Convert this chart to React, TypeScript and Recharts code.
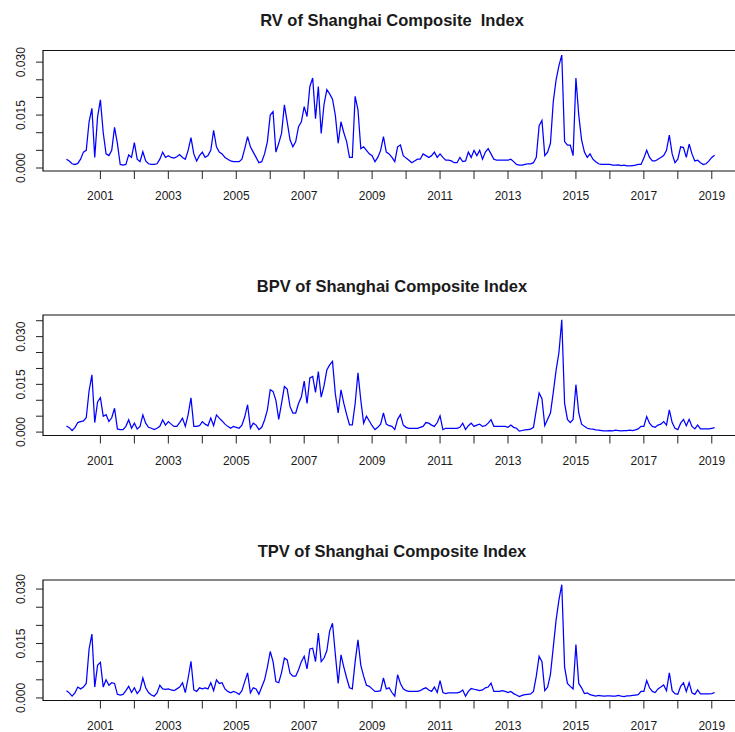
import React from 'react';
import { LineChart, Line, XAxis, YAxis, ReferenceArea } from 'recharts';

// Monthly series, January 2000 .. February 2019
const startYear = 2000;

const rvValues = [
  // 2000
  0.0025, 0.0020, 0.0012, 0.0010, 0.0013, 0.0025, 0.0045, 0.0050, 0.0131, 0.0169, 0.0030, 0.0145,
  // 2001
  0.0193, 0.0100, 0.0040, 0.0035, 0.0050, 0.0115, 0.0070, 0.0010, 0.0008, 0.0010, 0.0037, 0.0030,
  // 2002
  0.0072, 0.0025, 0.0018, 0.0046, 0.0020, 0.0012, 0.0010, 0.0010, 0.0012, 0.0025, 0.0045, 0.0030,
  // 2003
  0.0035, 0.0030, 0.0028, 0.0032, 0.0038, 0.0030, 0.0025, 0.0050, 0.0086, 0.0040, 0.0020, 0.0035,
  // 2004
  0.0045, 0.0030, 0.0035, 0.0050, 0.0107, 0.0060, 0.0045, 0.0040, 0.0030, 0.0025, 0.0020, 0.0018,
  // 2005
  0.0018, 0.0018, 0.0025, 0.0055, 0.0089, 0.0060, 0.0045, 0.0030, 0.0015, 0.0018, 0.0040, 0.0075,
  // 2006
  0.0150, 0.0160, 0.0045, 0.0070, 0.0098, 0.0179, 0.0130, 0.0080, 0.0060, 0.0075, 0.0117, 0.0131,
  // 2007
  0.0174, 0.0146, 0.0231, 0.0255, 0.0140, 0.0231, 0.0098, 0.0180, 0.0222, 0.0210, 0.0195, 0.0150,
  // 2008
  0.0070, 0.0131, 0.0100, 0.0075, 0.0030, 0.0030, 0.0203, 0.0165, 0.0055, 0.0060, 0.0050, 0.0040,
  // 2009
  0.0035, 0.0018, 0.0030, 0.0050, 0.0089, 0.0045, 0.0040, 0.0030, 0.0018, 0.0060, 0.0065, 0.0035,
  // 2010
  0.0028, 0.0022, 0.0015, 0.0020, 0.0025, 0.0025, 0.0040, 0.0035, 0.0030, 0.0035, 0.0045, 0.0030,
  // 2011
  0.0040, 0.0030, 0.0022, 0.0022, 0.0020, 0.0015, 0.0015, 0.0030, 0.0018, 0.0020, 0.0045, 0.0030,
  // 2012
  0.0050, 0.0035, 0.0050, 0.0025, 0.0045, 0.0055, 0.0040, 0.0025, 0.0022, 0.0022, 0.0022, 0.0022,
  // 2013
  0.0022, 0.0025, 0.0018, 0.0010, 0.0008, 0.0008, 0.0010, 0.0012, 0.0012, 0.0015, 0.0030, 0.0120,
  // 2014
  0.0135, 0.0035, 0.0045, 0.0070, 0.0188, 0.0250, 0.0290, 0.0320, 0.0075, 0.0065, 0.0065, 0.0035,
  // 2015
  0.0255, 0.0150, 0.0080, 0.0045, 0.0030, 0.0040, 0.0025, 0.0018, 0.0012, 0.0010, 0.0010, 0.0010,
  // 2016
  0.0010, 0.0008, 0.0008, 0.0009, 0.0007, 0.0008, 0.0006, 0.0006, 0.0007, 0.0008, 0.0010, 0.0010,
  // 2017
  0.0028, 0.0050, 0.0030, 0.0020, 0.0020, 0.0025, 0.0030, 0.0035, 0.0050, 0.0093, 0.0040, 0.0015,
  // 2018
  0.0025, 0.0060, 0.0058, 0.0030, 0.0068, 0.0040, 0.0020, 0.0022, 0.0015, 0.0010, 0.0012, 0.0020,
  // 2019
  0.0030, 0.0036,
];

const bpvValues = [
  // 2000
  0.0019, 0.0014, 0.0005, 0.0014, 0.0030, 0.0033, 0.0035, 0.0045, 0.0130, 0.0180, 0.0030, 0.0095,
  // 2001
  0.0108, 0.0050, 0.0055, 0.0033, 0.0045, 0.0075, 0.0010, 0.0008, 0.0008, 0.0018, 0.0039, 0.0012,
  // 2002
  0.0028, 0.0010, 0.0018, 0.0054, 0.0028, 0.0015, 0.0012, 0.0008, 0.0012, 0.0018, 0.0038, 0.0022,
  // 2003
  0.0033, 0.0025, 0.0018, 0.0018, 0.0030, 0.0044, 0.0018, 0.0055, 0.0108, 0.0018, 0.0018, 0.0020,
  // 2004
  0.0033, 0.0025, 0.0020, 0.0044, 0.0020, 0.0054, 0.0044, 0.0035, 0.0025, 0.0018, 0.0012, 0.0018,
  // 2005
  0.0015, 0.0012, 0.0022, 0.0048, 0.0086, 0.0012, 0.0028, 0.0022, 0.0008, 0.0015, 0.0038, 0.0070,
  // 2006
  0.0133, 0.0128, 0.0100, 0.0040, 0.0090, 0.0143, 0.0135, 0.0080, 0.0060, 0.0060, 0.0090, 0.0110,
  // 2007
  0.0160, 0.0090, 0.0170, 0.0175, 0.0125, 0.0190, 0.0110, 0.0145, 0.0195, 0.0211, 0.0222, 0.0120,
  // 2008
  0.0060, 0.0133, 0.0090, 0.0055, 0.0023, 0.0023, 0.0090, 0.0186, 0.0100, 0.0028, 0.0050, 0.0035,
  // 2009
  0.0020, 0.0008, 0.0015, 0.0025, 0.0060, 0.0025, 0.0020, 0.0018, 0.0008, 0.0040, 0.0055, 0.0022,
  // 2010
  0.0015, 0.0012, 0.0012, 0.0012, 0.0012, 0.0015, 0.0018, 0.0030, 0.0028, 0.0022, 0.0018, 0.0030,
  // 2011
  0.0051, 0.0008, 0.0012, 0.0012, 0.0012, 0.0012, 0.0012, 0.0015, 0.0028, 0.0008, 0.0020, 0.0028,
  // 2012
  0.0018, 0.0022, 0.0025, 0.0018, 0.0020, 0.0028, 0.0039, 0.0018, 0.0018, 0.0018, 0.0018, 0.0018,
  // 2013
  0.0015, 0.0022, 0.0015, 0.0012, 0.0003, 0.0005, 0.0007, 0.0008, 0.0009, 0.0015, 0.0070, 0.0123,
  // 2014
  0.0105, 0.0020, 0.0040, 0.0060, 0.0125, 0.0195, 0.0250, 0.0353, 0.0090, 0.0040, 0.0030, 0.0040,
  // 2015
  0.0149, 0.0060, 0.0025, 0.0018, 0.0012, 0.0010, 0.0009, 0.0007, 0.0006, 0.0005, 0.0004, 0.0004,
  // 2016
  0.0005, 0.0004, 0.0006, 0.0005, 0.0004, 0.0005, 0.0005, 0.0006, 0.0005, 0.0007, 0.0010, 0.0018,
  // 2017
  0.0018, 0.0049, 0.0028, 0.0018, 0.0015, 0.0022, 0.0025, 0.0033, 0.0022, 0.0070, 0.0030, 0.0012,
  // 2018
  0.0008, 0.0028, 0.0040, 0.0020, 0.0040, 0.0018, 0.0010, 0.0022, 0.0010, 0.0010, 0.0010, 0.0010,
  // 2019
  0.0012, 0.0014,
];

const tpvValues = [
  // 2000
  0.0020, 0.0014, 0.0005, 0.0014, 0.0030, 0.0025, 0.0030, 0.0040, 0.0135, 0.0176, 0.0030, 0.0090,
  // 2001
  0.0098, 0.0030, 0.0050, 0.0035, 0.0042, 0.0040, 0.0010, 0.0008, 0.0010, 0.0020, 0.0032, 0.0015,
  // 2002
  0.0028, 0.0012, 0.0022, 0.0055, 0.0028, 0.0015, 0.0008, 0.0005, 0.0014, 0.0035, 0.0025, 0.0024,
  // 2003
  0.0025, 0.0022, 0.0020, 0.0025, 0.0030, 0.0042, 0.0015, 0.0055, 0.0101, 0.0022, 0.0018, 0.0028,
  // 2004
  0.0025, 0.0028, 0.0025, 0.0042, 0.0020, 0.0050, 0.0040, 0.0042, 0.0025, 0.0018, 0.0014, 0.0018,
  // 2005
  0.0015, 0.0010, 0.0020, 0.0045, 0.0069, 0.0014, 0.0028, 0.0025, 0.0010, 0.0030, 0.0050, 0.0085,
  // 2006
  0.0128, 0.0100, 0.0045, 0.0042, 0.0070, 0.0110, 0.0105, 0.0068, 0.0060, 0.0060, 0.0078, 0.0100,
  // 2007
  0.0115, 0.0080, 0.0135, 0.0137, 0.0100, 0.0179, 0.0100, 0.0110, 0.0130, 0.0185, 0.0206, 0.0120,
  // 2008
  0.0040, 0.0119, 0.0085, 0.0055, 0.0028, 0.0025, 0.0100, 0.0160, 0.0090, 0.0060, 0.0035, 0.0032,
  // 2009
  0.0025, 0.0018, 0.0018, 0.0020, 0.0055, 0.0025, 0.0028, 0.0015, 0.0005, 0.0064, 0.0040, 0.0025,
  // 2010
  0.0020, 0.0018, 0.0018, 0.0018, 0.0018, 0.0020, 0.0025, 0.0028, 0.0022, 0.0018, 0.0030, 0.0015,
  // 2011
  0.0048, 0.0015, 0.0012, 0.0014, 0.0014, 0.0014, 0.0014, 0.0016, 0.0022, 0.0005, 0.0018, 0.0026,
  // 2012
  0.0024, 0.0022, 0.0020, 0.0022, 0.0028, 0.0030, 0.0041, 0.0018, 0.0018, 0.0018, 0.0020, 0.0018,
  // 2013
  0.0015, 0.0018, 0.0012, 0.0008, 0.0004, 0.0007, 0.0009, 0.0010, 0.0011, 0.0018, 0.0060, 0.0115,
  // 2014
  0.0100, 0.0020, 0.0030, 0.0065, 0.0140, 0.0215, 0.0270, 0.0312, 0.0085, 0.0040, 0.0032, 0.0025,
  // 2015
  0.0147, 0.0040, 0.0028, 0.0012, 0.0014, 0.0009, 0.0007, 0.0005, 0.0007, 0.0006, 0.0005, 0.0006,
  // 2016
  0.0006, 0.0005, 0.0005, 0.0007, 0.0005, 0.0004, 0.0006, 0.0006, 0.0007, 0.0008, 0.0009, 0.0018,
  // 2017
  0.0018, 0.0048, 0.0028, 0.0018, 0.0015, 0.0025, 0.0030, 0.0036, 0.0020, 0.0069, 0.0020, 0.0012,
  // 2018
  0.0010, 0.0032, 0.0042, 0.0018, 0.0042, 0.0014, 0.0010, 0.0022, 0.0011, 0.0011, 0.0011, 0.0011,
  // 2019
  0.0012, 0.0015,
];

const titles = [
  'RV of Shanghai Composite  Index',
  'BPV of Shanghai Composite Index',
  'TPV of Shanghai Composite Index',
];

const yearTicks = [
  2001, 2002, 2003, 2004, 2005, 2006, 2007, 2008, 2009, 2010,
  2011, 2012, 2013, 2014, 2015, 2016, 2017, 2018, 2019,
];
const yTicks30 = [0, 0.005, 0.01, 0.015, 0.02, 0.025, 0.03];
const yTicks35 = [0, 0.005, 0.01, 0.015, 0.02, 0.025, 0.03, 0.035];
const yLabelValues = [0, 0.015, 0.03];

const xDomain: [number, number] = [1999.31, 2019.86];

const toSeries = (vals: number[]) => vals.map((v, i) => ({ t: startYear + i / 12, v }));

const FONT = '"Liberation Sans", Arial, Helvetica, sans-serif';
const TEXT = '#1a1a1a';

const XTick = (props: any) => {
  const { x, y, payload } = props;
  const yr = payload.value as number;
  if (yr % 2 === 0) return <g />;
  return (
    <text x={x} y={y + 21} textAnchor="middle" fontSize={12} fill={TEXT} fontFamily={FONT}>
      {String(yr)}
    </text>
  );
};

const YTick = (props: any) => {
  const { x, y, payload } = props;
  const v = payload.value as number;
  if (!yLabelValues.some((l) => Math.abs(l - v) < 1e-9)) return <g />;
  return (
    <text
      x={x}
      y={y}
      transform={`rotate(-90, ${x}, ${y})`}
      textAnchor="middle"
      fontSize={12}
      fill={TEXT}
      fontFamily={FONT}
    >
      {v.toFixed(3)}
    </text>
  );
};

type PanelProps = {
  top: number;
  boxTop: number;
  values: number[];
  yDomain: [number, number];
  yTicks: number[];
};

const W = 760;
const H = 265;
const PLOT_H = 120.5;
const AXIS_H = 30;
const PLOT_LEFT = 43;
const PLOT_RIGHT = 741;

function Panel({ top, boxTop, values, yDomain, yTicks }: PanelProps) {
  const data = toSeries(values);
  return (
    <div style={{ position: 'absolute', left: 0, top, width: W, height: H }}>
      <LineChart
        width={W}
        height={H}
        data={data}
        margin={{ top: boxTop, right: W - PLOT_RIGHT, bottom: H - boxTop - PLOT_H - AXIS_H, left: 0 }}
      >
        <XAxis
          type="number"
          dataKey="t"
          domain={xDomain}
          allowDataOverflow
          ticks={yearTicks}
          interval={0}
          tickSize={8}
          tickMargin={0}
          height={AXIS_H}
          axisLine={false}
          tickLine={{ stroke: '#222', strokeWidth: 1 }}
          tick={XTick}
        />
        <YAxis
          type="number"
          domain={yDomain}
          allowDataOverflow
          ticks={yTicks}
          interval={0}
          width={PLOT_LEFT}
          tickSize={7}
          tickMargin={11}
          axisLine={false}
          tickLine={{ stroke: '#222', strokeWidth: 1 }}
          tick={YTick}
        />
        <ReferenceArea
          x1={xDomain[0]}
          x2={xDomain[1]}
          y1={yDomain[0]}
          y2={yDomain[1]}
          fill="none"
          fillOpacity={0}
          stroke="#111"
          strokeWidth={1.2}
          ifOverflow="visible"
        />
        <Line
          type="linear"
          dataKey="v"
          stroke="#0000ff"
          strokeWidth={1.25}
          dot={false}
          isAnimationActive={false}
        />
      </LineChart>
    </div>
  );
}

export default function App() {
  const titleX = (PLOT_LEFT + PLOT_RIGHT) / 2;
  return (
    <div
      style={{
        position: 'absolute',
        left: 0,
        top: 0,
        width: 735,
        height: 732,
        overflow: 'hidden',
        background: '#fff',
      }}
    >
      <Panel top={0} boxTop={50.5} values={rvValues} yDomain={[-0.00085, 0.0333]} yTicks={yTicks30} />
      <Panel top={265} boxTop={50} values={bpvValues} yDomain={[-0.00107, 0.0368]} yTicks={yTicks35} />
      <Panel top={530} boxTop={50} values={tpvValues} yDomain={[-0.0007, 0.0325]} yTicks={yTicks30} />
      <svg
        width={735}
        height={732}
        style={{ position: 'absolute', left: 0, top: 0, pointerEvents: 'none' }}
      >
        {titles.map((t, i) => (
          <text
            key={t}
            x={titleX}
            y={[26, 292, 557][i]}
            textAnchor="middle"
            fontSize={16.5}
            fontWeight="bold"
            fill={TEXT}
            fontFamily={FONT}
            style={{ whiteSpace: 'pre' }}
          >
            {t}
          </text>
        ))}
      </svg>
    </div>
  );
}
